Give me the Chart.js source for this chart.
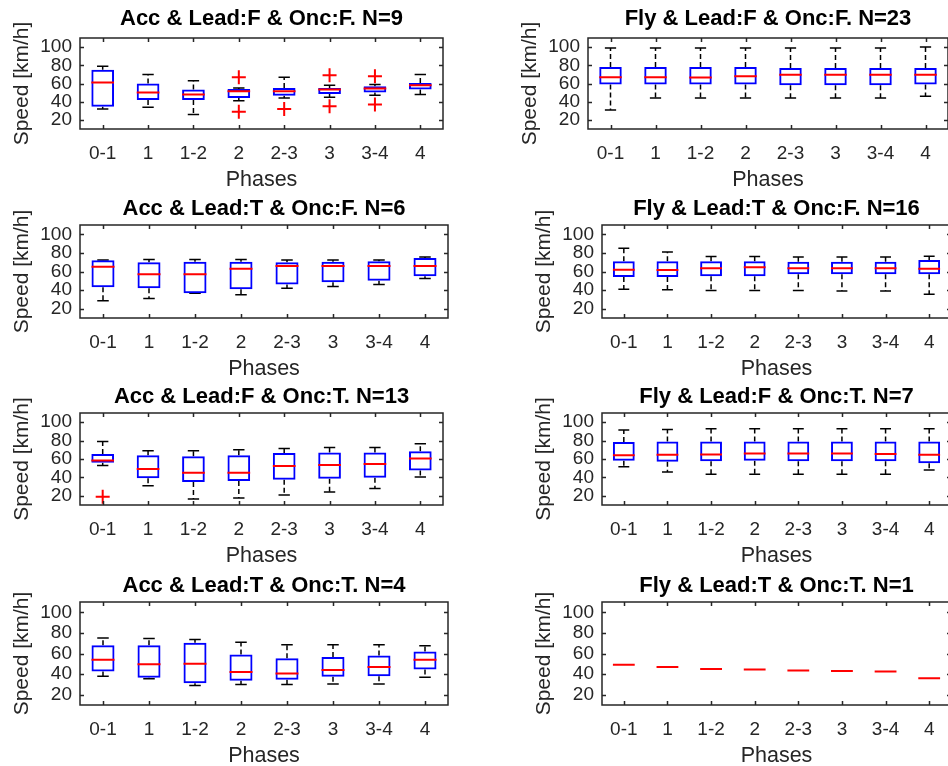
<!DOCTYPE html>
<html>
<head>
<meta charset="utf-8">
<script src="https://cdn.jsdelivr.net/npm/chart.js@4.4.1/dist/chart.umd.min.js"></script>
<style>
  html, body { margin: 0; padding: 0; background: #fff; }
  #page { position: relative; width: 948px; height: 766px; overflow: hidden; }
  #page canvas { position: absolute; }
</style>
</head>
<body>
<div id="page"></div>
<script>
const phases = ['0-1', '1', '1-2', '2', '2-3', '3', '3-4', '4'];
const yTicks = [20, 40, 60, 80, 100];

// Acc & Lead:F & Onc:F. N=9
const accFFUpper = [79, 70, 63, 55, 67, 58, 59, 70];
const accFFQ3 = [75, 60, 53.5, 54, 55, 55, 57, 60.5];
const accFFMedian = [61, 50, 48, 51.5, 51.5, 53.5, 54.5, 58];
const accFFQ1 = [34.5, 42, 42, 44, 46.5, 48.5, 50, 53.5];
const accFFLower = [32, 34, 26, 41, 44, 45, 47, 48];
const accFFOut = [[4, 67], [4, 29], [5, 32], [6, 69], [6, 35], [7, 68], [7, 37]];

// Fly & Lead:F & Onc:F. N=23
const flyFFUpper = [99, 99, 99, 99, 99, 99, 99, 100];
const flyFFQ3 = [78, 78, 78, 78, 77, 77, 77, 77];
const flyFFMedian = [67, 67, 66.5, 68, 69.5, 69.5, 69.5, 69.5];
const flyFFQ1 = [59, 59, 59, 59, 58, 58, 58, 59];
const flyFFLower = [31, 44, 44, 44, 44, 44, 44, 46];

// Acc & Lead:T & Onc:F. N=6
const accTFUpper = [72.5, 73, 73, 73, 72.5, 72.5, 72.5, 75.5];
const accTFQ3 = [72, 70, 70.5, 70.5, 70, 70.5, 71, 74.5];
const accTFMedian = [65, 57, 57, 63, 66, 66, 66, 66];
const accTFQ1 = [43, 42, 36.5, 41, 46, 48.5, 50, 55];
const accTFLower = [28.5, 31, 36.5, 35, 42, 44, 46, 52.5];

// Fly & Lead:T & Onc:F. N=16
const flyTFUpper = [85, 81, 76, 76, 75.5, 75.5, 75.5, 76.5];
const flyTFQ3 = [71, 71, 71, 71, 70.5, 70.5, 70.5, 72.5];
const flyTFMedian = [62, 61.5, 63.5, 64.5, 63.5, 63.5, 63.5, 63];
const flyTFQ1 = [54, 54, 55, 55, 57, 57, 57, 57];
const flyTFLower = [41, 40.5, 39.5, 39.5, 39.5, 39, 39, 35.5];

// Acc & Lead:F & Onc:T. N=13
const accFTUpper = [79, 69, 69, 70, 71.5, 72.5, 72.5, 76.5];
const accFTQ3 = [65.5, 64, 63, 64, 66.5, 67, 67, 68.5];
const accFTMedian = [58.5, 49, 45, 45, 52.5, 53.5, 54.5, 60.5];
const accFTQ1 = [56, 39, 35, 36, 37.5, 38.5, 39.5, 47.5];
const accFTLower = [53, 31, 16.5, 17.5, 21, 24, 28, 40.5];
const accFTOut = [[1, 19]];

// Fly & Lead:F & Onc:T. N=7
const flyFTUpper = [91.5, 92, 93, 93, 93, 93, 93, 93];
const flyFTQ3 = [78.5, 79, 79, 79, 79, 79, 79, 79];
const flyFTMedian = [64, 64.5, 65, 66, 66, 66, 65.5, 64.5];
const flyFTQ1 = [58, 57, 57.5, 58, 57.5, 57.5, 57.5, 55.5];
const flyFTLower = [51.5, 46, 43.5, 43.5, 43.5, 43.5, 43.5, 48];

// Acc & Lead:T & Onc:T. N=4
const accTTUpper = [75, 74.5, 73.5, 71, 68.5, 68.5, 68.5, 67.5];
const accTTQ3 = [68, 68, 70.5, 59, 55.5, 56.5, 58, 62];
const accTTMedian = [54, 49.5, 50, 42, 40.5, 44, 47, 54];
const accTTQ1 = [42.5, 36.5, 31, 33.5, 34.5, 37.5, 38, 44.5];
const accTTLower = [38, 35.5, 29, 30, 30, 30.5, 30.5, 37];

// Fly & Lead:T & Onc:T. N=1 (single run: only the median line shows)
const flyTTMedian = [49, 47, 45, 44.5, 43.5, 43, 42.5, 36];

const panels = [
  { title: 'Acc & Lead:F & Onc:F. N=9', upper: accFFUpper, q3: accFFQ3, median: accFFMedian, q1: accFFQ1, lower: accFFLower, out: accFFOut },
  { title: 'Fly & Lead:F & Onc:F. N=23', upper: flyFFUpper, q3: flyFFQ3, median: flyFFMedian, q1: flyFFQ1, lower: flyFFLower, out: [] },
  { title: 'Acc & Lead:T & Onc:F. N=6', upper: accTFUpper, q3: accTFQ3, median: accTFMedian, q1: accTFQ1, lower: accTFLower, out: [] },
  { title: 'Fly & Lead:T & Onc:F. N=16', upper: flyTFUpper, q3: flyTFQ3, median: flyTFMedian, q1: flyTFQ1, lower: flyTFLower, out: [] },
  { title: 'Acc & Lead:F & Onc:T. N=13', upper: accFTUpper, q3: accFTQ3, median: accFTMedian, q1: accFTQ1, lower: accFTLower, out: accFTOut },
  { title: 'Fly & Lead:F & Onc:T. N=7', upper: flyFTUpper, q3: flyFTQ3, median: flyFTMedian, q1: flyFTQ1, lower: flyFTLower, out: [] },
  { title: 'Acc & Lead:T & Onc:T. N=4', upper: accTTUpper, q3: accTTQ3, median: accTTMedian, q1: accTTQ1, lower: accTTLower, out: [] },
  { title: 'Fly & Lead:T & Onc:T. N=1', median: flyTTMedian, out: [] },
];

// plot area of each subplot on the page (left, top, right, bottom) + gap title->axes
const frames = [
  [80, 38, 448, 129, 19], [588, 38, 948, 129, 19],
  [80, 225, 448, 318, 16], [602, 225, 951, 318, 16],
  [80, 413, 448, 505, 16.5], [602, 413, 951, 505, 16.5],
  [80, 602, 448, 705, 16.5], [602, 602, 951, 705, 16.5],
];

const FONT = "'Liberation Sans', Arial, Helvetica, sans-serif";
const TXT = '#262626';
const BOX_W = 0.25;   // half box width in x units
const CAP_W = 0.125;  // half whisker cap width
const XAX_H = 66;

// frame + inward MATLAB-style ticks on all four sides
const axesBox = {
  id: 'axesBox',
  afterDraw(chart) {
    const { ctx, chartArea: a, scales: { x, y } } = chart;
    ctx.save();
    ctx.strokeStyle = TXT;
    ctx.lineWidth = 1.5;
    ctx.beginPath();
    x.ticks.forEach(t => {
      const px = Math.round(x.getPixelForValue(t.value)) + 0.5;
      ctx.moveTo(px, a.bottom); ctx.lineTo(px, a.bottom - 4);
      ctx.moveTo(px, a.top); ctx.lineTo(px, a.top + 4);
    });
    y.ticks.forEach(t => {
      const py = Math.round(y.getPixelForValue(t.value)) + 0.5;
      ctx.moveTo(a.left, py); ctx.lineTo(a.left + 4, py);
      ctx.moveTo(a.right, py); ctx.lineTo(a.right - 4, py);
    });
    ctx.stroke();
    ctx.strokeRect(a.left, a.top, a.width, a.height);
    ctx.restore();
  }
};

function medianSegs(med) {
  const pts = [];
  med.forEach((m, i) => pts.push({ x: i + 1 - BOX_W, y: m }, { x: i + 1 + BOX_W, y: m }, { x: i + 1, y: null }));
  return pts;
}

function whiskerSegs(p) {
  const pts = [];
  p.median.forEach((m, i) => {
    pts.push({ x: i + 1, y: p.q3[i] }, { x: i + 1, y: p.upper[i] }, { x: i + 1, y: null });
    pts.push({ x: i + 1, y: p.q1[i] }, { x: i + 1, y: p.lower[i] }, { x: i + 1, y: null });
  });
  return pts;
}

function capSegs(p) {
  const pts = [];
  p.median.forEach((m, i) => {
    pts.push({ x: i + 1 - CAP_W, y: p.upper[i] }, { x: i + 1 + CAP_W, y: p.upper[i] }, { x: i + 1, y: null });
    pts.push({ x: i + 1 - CAP_W, y: p.lower[i] }, { x: i + 1 + CAP_W, y: p.lower[i] }, { x: i + 1, y: null });
  });
  return pts;
}

function lineSet(data, color, width, dash, order) {
  return {
    type: 'line', data, borderColor: color, borderWidth: width, borderDash: dash,
    pointRadius: 0, fill: false, spanGaps: false, tension: 0, order
  };
}

function buildPanel(p, f) {
  const [left, top, right, bottom, gap] = f;
  const canvas = document.createElement('canvas');
  const w = right - left + 84;
  const h = bottom - top + 38 + XAX_H;
  canvas.width = w;
  canvas.height = h;
  canvas.style.left = (left - 80) + 'px';
  canvas.style.top = (top - 38) + 'px';
  canvas.style.width = w + 'px';
  canvas.style.height = h + 'px';
  document.getElementById('page').appendChild(canvas);

  const datasets = [];
  if (p.q3) {
    datasets.push(lineSet(whiskerSegs(p), '#000', 1.5, [5, 3], 5));
    datasets.push(lineSet(capSegs(p), '#000', 1.5, [], 4));
    datasets.push({
      type: 'bar',
      data: p.median.map((m, i) => ({ x: i + 1, y: [p.q1[i], p.q3[i]] })),
      backgroundColor: 'rgba(0,0,0,0)',
      borderColor: '#0000ff',
      borderWidth: 2,
      borderSkipped: false,
      barPercentage: 0.5,
      categoryPercentage: 1,
      grouped: false,
      order: 3
    });
  }
  datasets.push(lineSet(medianSegs(p.median), '#ff0000', 2, [], 2));
  if (p.out.length) {
    datasets.push({
      type: 'scatter',
      data: p.out.map(o => ({ x: o[0], y: o[1] })),
      pointStyle: 'cross',
      pointRadius: 7,
      borderColor: '#ff0000',
      borderWidth: 2,
      order: 1
    });
  }

  new Chart(canvas, {
    type: 'bar',
    data: { datasets },
    plugins: [axesBox],
    options: {
      responsive: false,
      animation: false,
      devicePixelRatio: 1,
      layout: { padding: { left: 0, top: 0, right: 4, bottom: 0 } },
      plugins: {
        legend: { display: false },
        tooltip: { enabled: false },
        title: {
          display: true,
          text: p.title,
          fullSize: false,
          color: '#000',
          font: { family: FONT, size: 22, weight: 'bold', lineHeight: 1.2 },
          padding: { top: 38 - gap - 13.2, bottom: gap - 13.2 }
        }
      },
      scales: {
        x: {
          type: 'linear',
          min: 0.5,
          max: 8.5,
          offset: false,
          afterBuildTicks: s => { s.ticks = phases.map((_, i) => ({ value: i + 1 })); },
          afterFit: s => { s.height = XAX_H; s.paddingLeft = 0; s.paddingRight = 0; },
          grid: { display: false, drawTicks: false },
          border: { display: false },
          ticks: {
            callback: (v, i) => phases[i],
            autoSkip: false, maxRotation: 0, padding: 13.6,
            color: TXT, font: { family: FONT, size: 19 }
          },
          title: {
            display: true, text: 'Phases', color: TXT,
            font: { family: FONT, size: 21.5, lineHeight: 1.2 },
            padding: { top: 0, bottom: 1.8 }
          }
        },
        y: {
          type: 'linear',
          min: 10,
          max: 110,
          afterBuildTicks: s => { s.ticks = yTicks.map(v => ({ value: v })); },
          afterFit: s => { s.width = 80; s.paddingTop = 0; s.paddingBottom = 0; },
          grid: { display: false, drawTicks: false },
          border: { display: false },
          ticks: { autoSkip: false, padding: 8, color: TXT, font: { family: FONT, size: 19 } },
          title: {
            display: true, text: 'Speed [km/h]', color: TXT,
            font: { family: FONT, size: 21 },
            padding: { top: 10, bottom: 0 }
          }
        }
      }
    }
  });
}

panels.forEach((p, i) => buildPanel(p, frames[i]));
</script>
</body>
</html>
